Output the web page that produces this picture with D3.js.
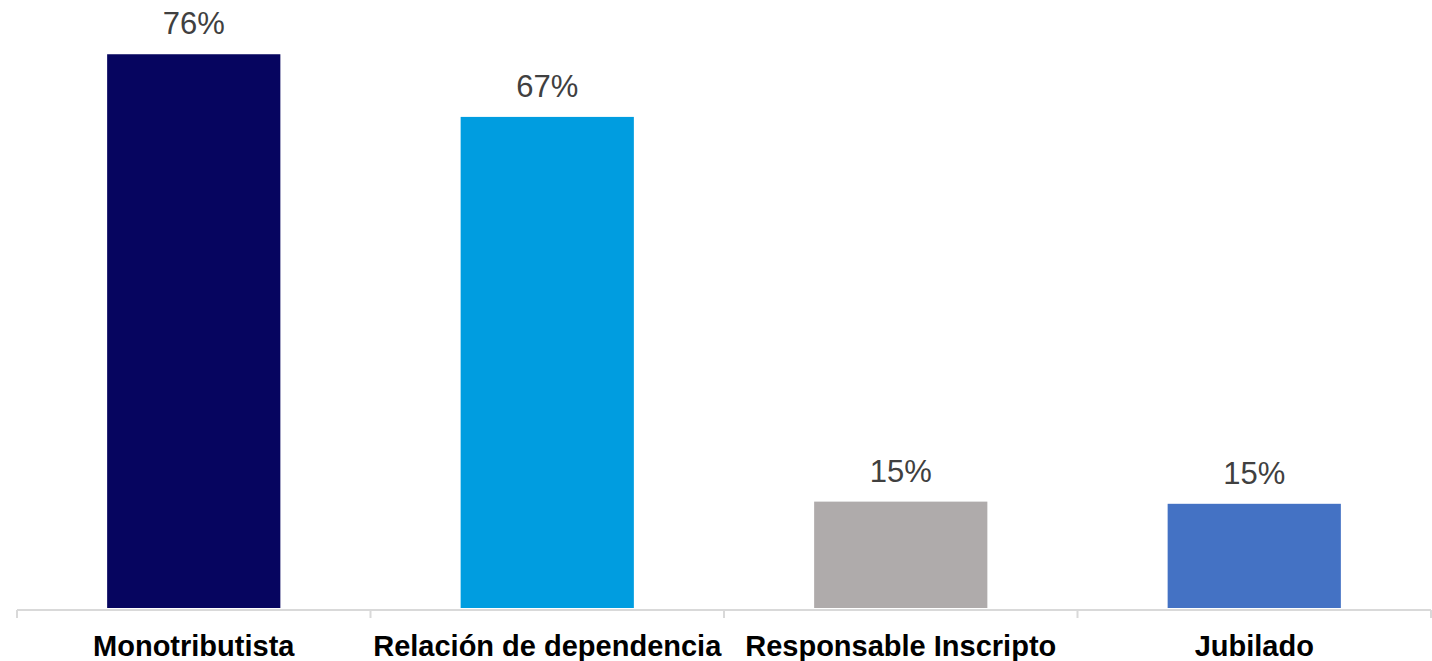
<!DOCTYPE html>
<html>
<head>
<meta charset="utf-8">
<script src="https://cdn.jsdelivr.net/npm/d3@7"></script>
<style>
  html, body { margin: 0; padding: 0; background: #fff; }
  svg { display: block; font-family: Arial, 'Liberation Sans', sans-serif; }
</style>
</head>
<body>
<div id="chart"></div>
<script>
const categories = ['Monotributista', 'Relación de dependencia', 'Responsable Inscripto', 'Jubilado'];
const values = [76, 67.4, 14.6, 14.3];
const valueLabels = ['76%', '67%', '15%', '15%'];
const colors = ['#06055f', '#009de0', '#afabab', '#4472c4'];

const W = 1432, H = 661;
const svg = d3.select('#chart').append('svg').attr('width', W).attr('height', H);

const x = d3.scaleBand()
  .domain(categories)
  .range([17, 1431])
  .paddingInner(0.51)
  .paddingOuter(0.255);

const y = d3.scaleLinear().domain([0, 80]).range([608, 25.1]);

// bars
svg.selectAll('.bar')
  .data(categories)
  .enter()
  .append('rect')
  .attr('class', 'bar')
  .attr('x', (d) => x(d))
  .attr('y', (d, i) => y(values[i]))
  .attr('width', x.bandwidth())
  .attr('height', (d, i) => y(0) - y(values[i]))
  .attr('fill', (d, i) => colors[i]);

// value labels
svg.selectAll('.val')
  .data(categories)
  .enter()
  .append('text')
  .attr('class', 'val')
  .attr('x', (d) => x(d) + x.bandwidth() / 2)
  .attr('y', (d, i) => y(values[i]) - 20)
  .attr('text-anchor', 'middle')
  .style('font-size', '31px')
  .style('fill', '#404040')
  .text((d, i) => valueLabels[i]);

// x axis: line plus ticks at category boundaries
const axis = svg.append('g').attr('transform', 'translate(0,610)');
axis.append('line')
  .attr('x1', 17).attr('x2', 1431)
  .attr('y1', 0).attr('y2', 0)
  .style('stroke', '#d9d9d9')
  .style('stroke-width', 2);

const step = x.step();
const bounds = d3.range(categories.length + 1).map((i) => 17 + i * step);
axis.selectAll('.tick')
  .data(bounds)
  .enter()
  .append('line')
  .attr('class', 'tick')
  .attr('x1', (d) => d).attr('x2', (d) => d)
  .attr('y1', 0).attr('y2', 8)
  .style('stroke', '#d9d9d9')
  .style('stroke-width', 2);

axis.selectAll('.cat')
  .data(categories)
  .enter()
  .append('text')
  .attr('class', 'cat')
  .attr('x', (d) => x(d) + x.bandwidth() / 2)
  .attr('y', 46)
  .attr('text-anchor', 'middle')
  .style('font-size', '29px')
  .style('font-weight', 'bold')
  .style('fill', '#000')
  .text((d) => d);
</script>
</body>
</html>
